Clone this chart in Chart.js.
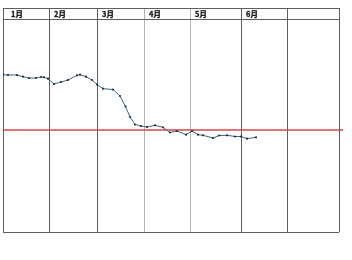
<!DOCTYPE html>
<html>
<head>
<meta charset="utf-8">
<script src="https://cdn.jsdelivr.net/npm/chart.js@4/dist/chart.umd.min.js"></script>
<style>
  body { margin: 0; background: #fff; }
  #wrap { width: 352px; height: 260px; }
</style>
</head>
<body>
<div id="wrap"><canvas id="chart"></canvas></div>
<script>
// month columns (x in days-ish units from left edge)
const monthEdges = [0, 46, 94, 141, 187, 238, 284, 336];
const monthLabels = ['1月', '2月', '3月', '4月', '5月', '6月'];
const lightEdges = [141, 187];

// horizontal rules: bottom, header line, top
const rowLines = [0, 213, 224];
const refLevel = 102;

const seriesX = [0, 5, 14, 20, 26, 33, 38, 41, 45, 51, 58, 65, 74, 77, 83, 89, 94, 100, 110, 117,
  122.5, 127, 132, 138, 144, 152, 160, 167, 174, 183, 189, 195, 200, 210, 216, 224, 232, 238, 244, 253];
const seriesY = [157.3, 157, 157, 155.3, 154, 154, 155, 154.7, 153.3, 148, 150, 152, 156.7, 157.3, 155.3, 152, 147.5, 143.3, 142.5, 136,
  125.5, 115, 107.5, 106, 105, 106.7, 104.7, 99.5, 101, 97.3, 101, 97.3, 96.7, 94, 96.5, 96.7, 95.5, 95.5, 93.3, 94.7];

const headerPlugin = {
  id: 'header',
  afterDraw(chart) {
    const ctx = chart.ctx;
    const x = chart.scales.x;
    const y = chart.scales.y;
    const mid = (y.getPixelForValue(rowLines[1]) + y.getPixelForValue(rowLines[2])) / 2;
    ctx.save();
    ctx.font = 'bold 7.5px "Noto Sans CJK JP"';
    ctx.fillStyle = '#222';
    ctx.strokeStyle = '#222';
    ctx.lineWidth = 0.35;
    ctx.textAlign = 'left';
    ctx.textBaseline = 'middle';
    monthLabels.forEach((label, i) => {
      const px = x.getPixelForValue(monthEdges[i]) + (i === 0 ? 8 : 5);
      ctx.fillText(label, px, mid + 0.5);
      ctx.strokeText(label, px, mid + 0.5);
    });
    ctx.restore();
  }
};

new Chart(document.getElementById('chart'), {
  type: 'line',
  data: {
    datasets: [{
      data: seriesX.map((v, i) => ({ x: v, y: seriesY[i] })),
      borderColor: '#3a6580',
      borderWidth: 1,
      pointRadius: 1.1,
      pointBackgroundColor: '#1f2f40',
      pointBorderWidth: 0,
      tension: 0
    }, {
      data: [{ x: 0, y: refLevel }, { x: 340, y: refLevel }],
      borderColor: '#d24a4a',
      borderWidth: 1.5,
      pointRadius: 0,
      clip: false
    }]
  },
  options: {
    responsive: true,
    maintainAspectRatio: false,
    animation: false,
    layout: {
      autoPadding: false,
      padding: { left: 3, right: 13, top: 8, bottom: 28 }
    },
    plugins: {
      legend: { display: false },
      tooltip: { enabled: false }
    },
    scales: {
      x: {
        type: 'linear',
        min: monthEdges[0],
        max: monthEdges[monthEdges.length - 1],
        afterBuildTicks: (scale) => { scale.ticks = monthEdges.map(v => ({ value: v })); },
        grid: {
          drawTicks: false,
          color: (c) => lightEdges.includes(c.tick.value) ? '#b4b4b4' : '#5e5e5e'
        },
        border: { display: false },
        ticks: { display: false }
      },
      y: {
        type: 'linear',
        min: rowLines[0],
        max: rowLines[2],
        afterBuildTicks: (scale) => { scale.ticks = rowLines.map(v => ({ value: v })); },
        grid: { drawTicks: false, color: '#5e5e5e' },
        border: { display: false },
        ticks: { display: false }
      }
    }
  },
  plugins: [headerPlugin]
});
</script>
</body>
</html>
